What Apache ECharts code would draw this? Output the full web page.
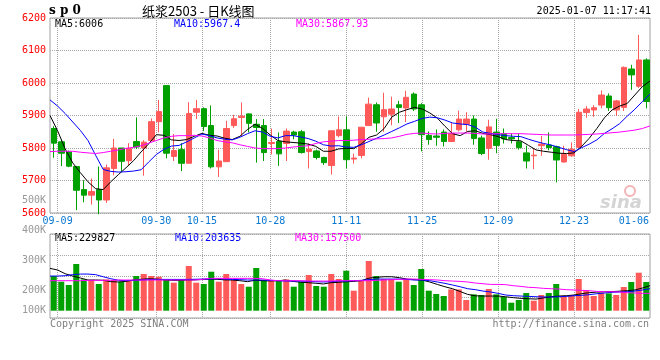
<!DOCTYPE html>
<html><head><meta charset="utf-8">
<script src="https://cdn.jsdelivr.net/npm/echarts@6/dist/echarts.min.js"></script>
<style>html,body{margin:0;padding:0;background:#fff}#c{width:660px;height:360px}</style>
</head><body><div id="c"></div>
<script>
const dates = ['09-06','09-09','09-10','09-11','09-12','09-13','09-18','09-19','09-20','09-23','09-24','09-25','09-26','09-27','09-30',
'10-08','10-09','10-10','10-11','10-14','10-15','10-16','10-17','10-18','10-21','10-22','10-23','10-24','10-25','10-28','10-29','10-30','10-31',
'11-01','11-04','11-05','11-06','11-07','11-08','11-11','11-12','11-13','11-14','11-15','11-18','11-19','11-20','11-21','11-22','11-25','11-26','11-27','11-28','11-29',
'12-02','12-03','12-04','12-05','12-06','12-09','12-10','12-11','12-12','12-13','12-16','12-17','12-18','12-19','12-20','12-23','12-24','12-25','12-26','12-27','12-30','12-31',
'01-02','01-03','01-06','01-07'];
const labelDates = ['09-09','09-30','10-15','10-28','11-11','11-25','12-09','12-23','01-06'];
const gridDates = ['09-09','09-30','10-15','10-28','11-11','11-25','12-09','12-23'];

const opens = [5860,5819,5788,5743,5672,5655,5672,5640,5737,5800,
 5761,5820,5800,5823,5881,5992,5774,5795,5753,5910,
 5921,5869,5742,5758,5869,5894,5905,5873,5869,5814,
 5820,5814,5849,5850,5789,5791,5771,5746,5838,5856,
 5766,5777,5869,5933,5896,5904,5933,5923,5966,5933,
 5839,5837,5849,5820,5856,5873,5889,5831,5799,5849,
 5844,5832,5819,5785,5776,5807,5809,5804,5757,5776,
 5802,5909,5917,5932,5960,5917,5925,6043,5990,6071];
const closes = [5815,5784,5744,5670,5655,5666,5640,5739,5800,5759,
 5798,5803,5818,5881,5912,5784,5792,5753,5906,5921,
 5866,5742,5760,5860,5890,5898,5876,5863,5786,5817,
 5782,5852,5840,5786,5797,5771,5755,5853,5856,5764,
 5769,5864,5935,5877,5918,5920,5925,5956,5920,5841,
 5826,5833,5820,5845,5889,5889,5829,5783,5865,5808,
 5828,5828,5801,5760,5778,5812,5801,5763,5781,5796,
 5910,5920,5924,5963,5924,5945,6048,6025,6071,5943];
const lows = [5770,5744,5741,5609,5633,5626,5596,5631,5716,5727,
 5747,5797,5715,5821,5848,5768,5760,5729,5753,5889,
 5852,5737,5711,5758,5862,5837,5848,5755,5760,5780,
 5745,5760,5827,5783,5737,5765,5748,5718,5833,5737,
 5752,5768,5868,5850,5850,5870,5877,5880,5914,5790,
 5810,5807,5805,5818,5851,5851,5810,5778,5764,5784,
 5814,5814,5795,5737,5735,5776,5793,5694,5755,5773,
 5800,5893,5896,5922,5914,5899,5914,5979,5985,5922];
const highs = [5867,5826,5792,5745,5701,5706,5743,5749,5828,5800,
 5815,5894,5824,5891,5948,5992,5843,5815,5941,5948,
 5925,5931,5795,5884,5902,5940,5906,5889,5889,5860,
 5848,5860,5853,5855,5814,5795,5773,5853,5897,5897,
 5783,5864,5955,5940,5970,5958,5945,5976,5971,5938,
 5851,5857,5857,5877,5915,5910,5900,5838,5887,5890,
 5860,5845,5843,5807,5797,5837,5848,5807,5807,5817,
 5920,5929,5932,5977,5968,5948,6051,6056,6148,6076];

const ma5 = [5900,5853,5797,5754,5724,5696,5675,5672,5696,5718,
 5739,5761,5788,5813,5841,5839,5825,5823,5826,5836,
 5845,5839,5837,5830,5826,5836,5857,5873,5860,5840,
 5823,5819,5817,5815,5812,5805,5790,5790,5797,5799,
 5798,5813,5833,5840,5860,5895,5910,5918,5925,5920,
 5908,5892,5867,5844,5838,5851,5853,5845,5841,5835,
 5826,5823,5822,5808,5794,5790,5787,5784,5783,5785,
 5805,5830,5860,5893,5917,5929,5937,5963,5989,6006];
const ma10 = [5948,5929,5906,5880,5854,5823,5778,5734,5728,5726,
 5727,5729,5733,5757,5780,5796,5806,5808,5819,5831,
 5843,5838,5831,5827,5825,5833,5844,5853,5849,5836,
 5831,5838,5838,5834,5829,5821,5810,5806,5807,5803,
 5802,5810,5820,5830,5840,5851,5862,5874,5882,5891,
 5895,5893,5886,5877,5874,5872,5864,5849,5845,5841,
 5838,5836,5835,5827,5820,5814,5809,5802,5795,5789,
 5801,5812,5825,5845,5859,5875,5898,5919,5943,5966];
const ma30 = [5789,5790,5790,5790,5787,5785,5783,5786,5790,5794,
 5799,5802,5807,5815,5823,5831,5836,5838,5838,5839,
 5837,5831,5823,5819,5816,5810,5805,5800,5798,5798,
 5798,5800,5803,5805,5807,5814,5819,5821,5823,5823,
 5824,5826,5827,5828,5829,5831,5836,5842,5845,5846,
 5844,5843,5845,5846,5846,5846,5845,5843,5843,5844,
 5844,5844,5844,5843,5842,5841,5840,5840,5840,5840,
 5841,5842,5843,5845,5847,5849,5852,5855,5860,5868];

const volumes = [298400,249400,221000,401600,269200,264000,229600,269200,264000,249400,
 258000,298400,315600,298400,292400,264000,240800,264000,384400,240800,
 229600,335400,249400,315600,264000,229600,206400,367200,264000,264000,
 255400,269200,206400,249400,307000,212400,206400,315600,272600,344000,
 172000,255400,427400,298400,272600,272600,249400,272600,221000,358600,
 172000,143600,126400,183200,183200,92000,140200,135000,186600,140200,
 117800,68800,92000,152200,86000,135000,152200,229600,129000,135000,
 272600,178000,126400,154800,148800,135000,203800,246800,326800,246800];
const vma5 = [364000,350000,318000,298000,281000,264000,264000,262000,250000,247000,
 252000,264000,270000,275000,272000,265000,261000,261000,264000,265000,
 268000,272000,270000,265000,264000,258000,250000,262000,258000,256000,
 258000,263000,252000,245000,241000,236000,230000,241000,244000,249000,
 252000,258000,280000,287000,292000,292000,284000,272000,267000,264000,
 247000,226000,206000,189000,165000,140000,128000,126000,126000,126000,
 120000,112000,106000,103000,100000,110000,120000,126000,129000,135000,
 146000,155000,160000,163000,164000,168000,172000,178000,195000,215000];
const vma10 = [298000,298000,301000,310000,315000,315000,310000,292000,275000,262000,
 258000,261000,264000,267000,269000,269000,269000,269000,269000,270000,
 272000,272000,275000,272000,269000,267000,264000,264000,264000,261000,
 258000,255000,255000,255000,252000,249000,247000,249000,255000,255000,
 258000,261000,267000,272000,272000,272000,272000,269000,264000,264000,
 258000,247000,235000,221000,206000,189000,181000,169000,161000,149000,
 135000,129000,126000,123000,120000,118000,118000,120000,123000,129000,
 132000,138000,146000,152000,158000,161000,163000,169000,178000,189000];
const vma30 = [258000,258000,258000,258000,258000,261000,261000,261000,261000,264000,
 264000,264000,264000,264000,264000,264000,264000,264000,264000,264000,
 269000,278000,278000,278000,278000,278000,278000,278000,275000,264000,
 258000,258000,258000,258000,255000,255000,255000,255000,258000,258000,
 258000,258000,258000,261000,264000,267000,269000,272000,272000,269000,
 267000,264000,258000,255000,252000,247000,238000,232000,226000,226000,
 224000,215000,209000,201000,198000,192000,189000,186000,181000,178000,
 175000,172000,166000,163000,163000,161000,155000,152000,149000,149000];

const UP = '#ff5a5a', DOWN = '#00a000';
const MONO = 'DejaVu Sans Mono';
const candles = opens.map((o, i) => [o, closes[i], lows[i], highs[i]]);
const volData = volumes.map((v, i) => ({value: v, itemStyle: {color: closes[i] >= opens[i] ? UP : DOWN}}));
const gridLine = {show: true, interval: (i, v) => gridDates.includes(v), lineStyle: {type: 'dotted', color: '#a8a8a8', width: 1}};
const hLine = {show: true, lineStyle: {type: 'dotted', color: '#a8a8a8', width: 1}};

function txt(x, y, text, fill, font, align) {
  return {type: 'text', x: x, y: y, silent: true,
    style: {text: text, fill: fill, font: font, align: align || 'left', verticalAlign: 'middle'}};
}
const f10 = '10px "' + MONO + '"';

const chart = echarts.init(document.getElementById('c'), null, {renderer: 'canvas'});
chart.setOption({
  animation: false,
  backgroundColor: '#fff',
  textStyle: {fontFamily: MONO},
  grid: [
    {left: 50, width: 600, top: 18, height: 195, show: true, borderColor: '#a0a0a0', borderWidth: 1},
    {left: 50, width: 600, top: 234, height: 84, show: true, borderColor: '#a0a0a0', borderWidth: 1},
    {left: 50, width: 600, top: 200.7, height: 149.5, show: false}
  ],
  xAxis: [
    {type: 'category', gridIndex: 0, data: dates, boundaryGap: true, show: false},
    {type: 'category', gridIndex: 0, data: dates, boundaryGap: false, position: 'bottom',
      axisLine: {show: false}, axisTick: {show: false},
      axisLabel: {interval: (i, v) => labelDates.includes(v), color: '#0a78d2', fontSize: 10, fontFamily: MONO, margin: 3,
        formatter: v => v === '01-06' ? '{r|' + v + '}' : v,
        rich: {r: {color: '#0a78d2', fontSize: 10, fontFamily: MONO, padding: [0, 17, 0, 0]}}},
      splitLine: gridLine},
    {type: 'category', gridIndex: 1, data: dates, boundaryGap: true, show: false},
    {type: 'category', gridIndex: 1, data: dates, boundaryGap: false,
      axisLine: {show: false}, axisTick: {show: false}, axisLabel: {show: false}, splitLine: gridLine},
    {type: 'value', gridIndex: 2, min: 0, max: 1, show: false}
  ],
  yAxis: [
    {type: 'value', gridIndex: 0, min: 5600, max: 6200, interval: 100,
      axisLine: {show: false}, axisTick: {show: false},
      axisLabel: {color: '#ff0000', fontSize: 10, fontFamily: MONO, margin: 4, formatter: v => String(v)},
      splitLine: hLine},
    {type: 'value', gridIndex: 1, min: -62780, max: 659620, show: false},
    {type: 'value', gridIndex: 1, min: 0, max: 4, interval: 1,
      axisLine: {show: false}, axisTick: {show: false}, axisLabel: {show: false}, splitLine: hLine},
    {type: 'value', gridIndex: 2, min: 0, max: 500000, interval: 100000,
      axisLine: {show: false}, axisTick: {show: false}, splitLine: {show: false},
      axisLabel: {color: '#999', fontSize: 10, fontFamily: MONO, margin: 4,
        formatter: v => v === 0 ? '' : (v === 100000 ? '{u|' + (v / 1000) + 'K}' : (v / 1000) + 'K'),
        rich: {u: {color: '#999', fontSize: 10, fontFamily: MONO, padding: [0, 0, 19, 0]}}}}
  ],
  series: [
    {type: 'candlestick', xAxisIndex: 0, yAxisIndex: 0, data: candles, barWidth: 6,
      itemStyle: {color: UP, color0: DOWN, borderColor: UP, borderColor0: DOWN, borderWidth: 1}},
    {type: 'line', xAxisIndex: 1, yAxisIndex: 0, data: ma5, showSymbol: false, lineStyle: {color: '#000', width: 1}},
    {type: 'line', xAxisIndex: 1, yAxisIndex: 0, data: ma10, showSymbol: false, lineStyle: {color: '#0000ff', width: 1}},
    {type: 'line', xAxisIndex: 1, yAxisIndex: 0, data: ma30, showSymbol: false, lineStyle: {color: '#ff00ff', width: 1}},
    {type: 'bar', xAxisIndex: 2, yAxisIndex: 1, data: volData, barWidth: 6},
    {type: 'line', xAxisIndex: 3, yAxisIndex: 1, data: vma5, showSymbol: false, lineStyle: {color: '#000', width: 1}},
    {type: 'line', xAxisIndex: 3, yAxisIndex: 1, data: vma10, showSymbol: false, lineStyle: {color: '#0000ff', width: 1}},
    {type: 'line', xAxisIndex: 3, yAxisIndex: 1, data: vma30, showSymbol: false, lineStyle: {color: '#ff00ff', width: 1}},
    {type: 'line', xAxisIndex: 4, yAxisIndex: 3, data: [], showSymbol: false}
  ],
  graphic: [
    txt(49, 11, 's p 0', '#000', 'bold 12px "DejaVu Serif"'),
    txt(142, 11, '纸浆2503 - 日K线图', '#000', '13px "Noto Sans CJK SC"'),
    txt(651, 11, '2025-01-07 11:17:41', '#000', f10, 'right'),
    txt(55, 24, 'MA5:6006', '#000', f10),
    txt(174, 24, 'MA10:5967.4', '#0000ff', f10),
    txt(296, 24, 'MA30:5867.93', '#ff00ff', f10),
    txt(55, 238.5, 'MA5:229827', '#000', f10),
    txt(175, 238.5, 'MA10:203635', '#0000ff', f10),
    txt(295, 238.5, 'MA30:157500', '#ff00ff', f10),
    txt(50, 324, 'Copyright 2025 SINA.COM', '#808080', f10),
    txt(649, 324, 'http://finance.sina.com.cn', '#808080', f10, 'right'),
    {type: 'circle', silent: true, shape: {cx: 630, cy: 191, r: 5}, style: {fill: 'none', stroke: '#f2b4b4', lineWidth: 2}},
    txt(600, 203, 'sina', '#d4d4d4', 'italic bold 18px "DejaVu Sans"')
  ]
});
</script>
</body></html>
